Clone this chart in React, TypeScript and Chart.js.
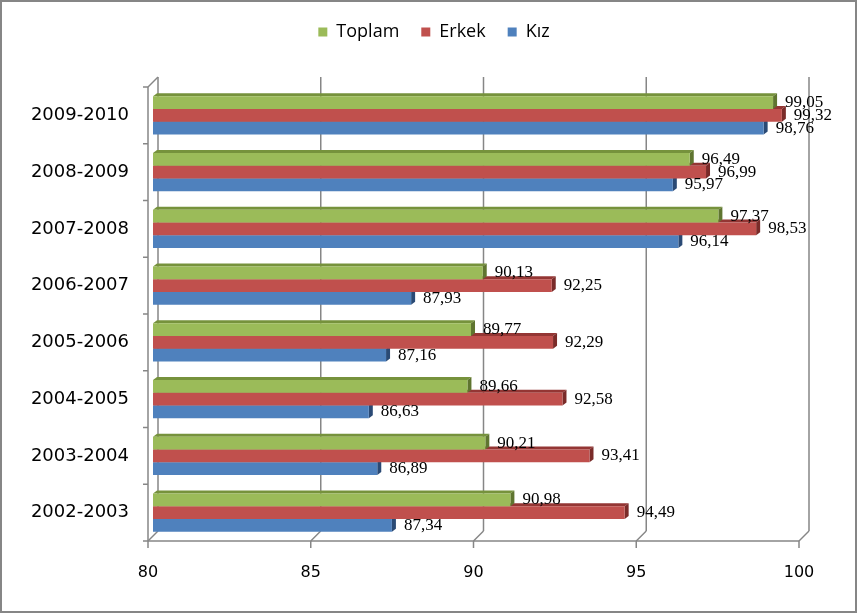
import React, { useEffect, useRef } from 'react';
import { Chart, registerables } from 'chart.js';

Chart.register(...registerables);

const categories = ['2009-2010', '2008-2009', '2007-2008', '2006-2007', '2005-2006', '2004-2005', '2003-2004', '2002-2003'];
const seriesNames = ['Toplam', 'Erkek', 'Kız'];
const toplam = [99.05, 96.49, 97.37, 90.13, 89.77, 89.66, 90.21, 90.98];
const erkek = [99.32, 96.99, 98.53, 92.25, 92.29, 92.58, 93.41, 94.49];
const kiz = [98.76, 95.97, 96.14, 87.93, 87.16, 86.63, 86.89, 87.34];
const xTicks = [80, 85, 90, 95, 100];

const frontColors = ['#9bbb59', '#c0504d', '#4f81bd'];
const topColors = ['#76923c', '#943634', '#365f91'];
const capColors = ['#5f7530', '#7a2b29', '#2a4a75'];
const AXIS = '#868686';
const BX = 4;
const BY = 3;

const fmt = (v: number) => v.toFixed(2).replace('.', ',');

const depthPlugin = {
  id: 'depth3d',
  beforeDatasetsDraw(chart: any) {
    const { ctx, chartArea: a, scales } = chart;
    const xs = scales.x;
    const ys = scales.y;
    ctx.save();
    ctx.strokeStyle = AXIS;
    ctx.lineWidth = 1.5;
    const line = (x1: number, y1: number, x2: number, y2: number) => {
      ctx.beginPath();
      ctx.moveTo(x1, y1);
      ctx.lineTo(x2, y2);
      ctx.stroke();
    };
    xTicks.forEach((v) => {
      const px = xs.getPixelForValue(v);
      line(px + 5, a.top - 10, px + 5, a.bottom - 10);
      line(px - 5, a.bottom, px + 5, a.bottom - 10);
      line(px - 5, a.bottom, px - 5, a.bottom + 7);
    });
    line(a.left - 5, a.bottom, a.right - 5, a.bottom);
    line(a.left - 5, a.top, a.left - 5, a.bottom);
    line(a.left - 5, a.top, a.left + 5, a.top - 10);
    const band = ys.getPixelForTick(1) - ys.getPixelForTick(0);
    for (let i = 0; i < categories.length; i++) {
      const yc = ys.getPixelForTick(i);
      line(a.left - 10, yc - band / 2, a.left - 5, yc - band / 2);
      if (i === categories.length - 1) line(a.left - 10, yc + band / 2, a.left - 5, yc + band / 2);
    }
    const poly = (color: string, pts: number[][]) => {
      ctx.fillStyle = color;
      ctx.beginPath();
      ctx.moveTo(pts[0][0], pts[0][1]);
      for (let k = 1; k < pts.length; k++) ctx.lineTo(pts[k][0], pts[k][1]);
      ctx.closePath();
      ctx.fill();
    };
    for (let d = chart.data.datasets.length - 1; d >= 0; d--) {
      const meta = chart.getDatasetMeta(d);
      meta.data.forEach((el: any) => {
        const { x, y, base, height } = el.getProps(['x', 'y', 'base', 'height'], true);
        const t = y - height / 2;
        const b = y + height / 2;
        poly(topColors[d], [[base, t], [x, t], [x + BX, t - BY], [base + BX, t - BY]]);
        poly(capColors[d], [[x, t], [x + BX, t - BY], [x + BX, b - BY], [x, b]]);
      });
    }
    ctx.restore();
  },
  afterDatasetsDraw(chart: any) {
    const { ctx } = chart;
    ctx.save();
    ctx.fillStyle = '#000';
    ctx.font = '17px "Liberation Serif", "Times New Roman", serif';
    ctx.textAlign = 'left';
    ctx.textBaseline = 'middle';
    chart.data.datasets.forEach((ds: any, d: number) => {
      const meta = chart.getDatasetMeta(d);
      meta.data.forEach((el: any, i: number) => {
        const { x, y } = el.getProps(['x', 'y'], true);
        ctx.fillText(fmt(ds.data[i]), x + 12, y);
      });
    });
    ctx.restore();
  },
  afterDraw(chart: any) {
    const { ctx, width, height } = chart;
    ctx.save();
    ctx.strokeStyle = AXIS;
    ctx.lineWidth = 2;
    ctx.strokeRect(1, 1, width - 4, height - 2);
    ctx.restore();
  },
};

export default function App() {
  const ref = useRef<HTMLCanvasElement | null>(null);
  useEffect(() => {
    document.body.style.margin = '0';
    if (!ref.current) return;
    const series = [toplam, erkek, kiz];
    const chart = new Chart(ref.current, {
      type: 'bar',
      data: {
        labels: categories,
        datasets: seriesNames.map((name, i) => ({
          label: name,
          data: series[i],
          base: 80,
          backgroundColor: frontColors[i],
          borderWidth: 0,
          categoryPercentage: 0.67,
          barPercentage: 1,
        })),
      },
      options: {
        indexAxis: 'y',
        animation: false,
        responsive: false,
        maintainAspectRatio: false,
        layout: { padding: { top: 1, left: 10, right: 1, bottom: 0 } },
        plugins: {
          legend: {
            position: 'top',
            labels: {
              boxWidth: 9,
              boxHeight: 9,
              padding: 22,
              color: '#000',
              font: { family: '"Open Sans", sans-serif', size: 18 },
            },
          },
          tooltip: { enabled: false },
        },
        scales: {
          x: {
            type: 'linear',
            position: 'bottom',
            min: 80,
            max: 100,
            ticks: {
              stepSize: 5,
              color: '#000',
              padding: 22,
              labelOffset: -5,
              font: { family: '"DejaVu Sans", sans-serif', size: 16 },
            },
            grid: { display: false, drawTicks: false },
            border: { display: false },
            afterFit: (s: any) => { s.height = 72; },
          },
          x2: {
            type: 'linear',
            axis: 'x',
            position: 'top',
            display: true,
            ticks: { display: false },
            grid: { display: false, drawTicks: false },
            border: { display: false },
            afterFit: (s: any) => { s.height = 36; },
          },
          y: {
            type: 'category',
            ticks: {
              color: '#000',
              padding: 24,
              font: { family: '"DejaVu Sans", sans-serif', size: 18 },
            },
            grid: { display: false, drawTicks: false },
            border: { display: false },
            afterFit: (s: any) => { s.width = 143; },
          },
          y2: {
            type: 'linear',
            axis: 'y',
            position: 'right',
            display: true,
            ticks: { display: false },
            grid: { display: false, drawTicks: false },
            border: { display: false },
            afterFit: (s: any) => { s.width = 54; },
          },
        },
      } as any,
      plugins: [depthPlugin],
    });
    return () => chart.destroy();
  }, []);
  return <canvas ref={ref} width={859} height={613} style={{ display: 'block', width: 859, height: 613 }} />;
}
